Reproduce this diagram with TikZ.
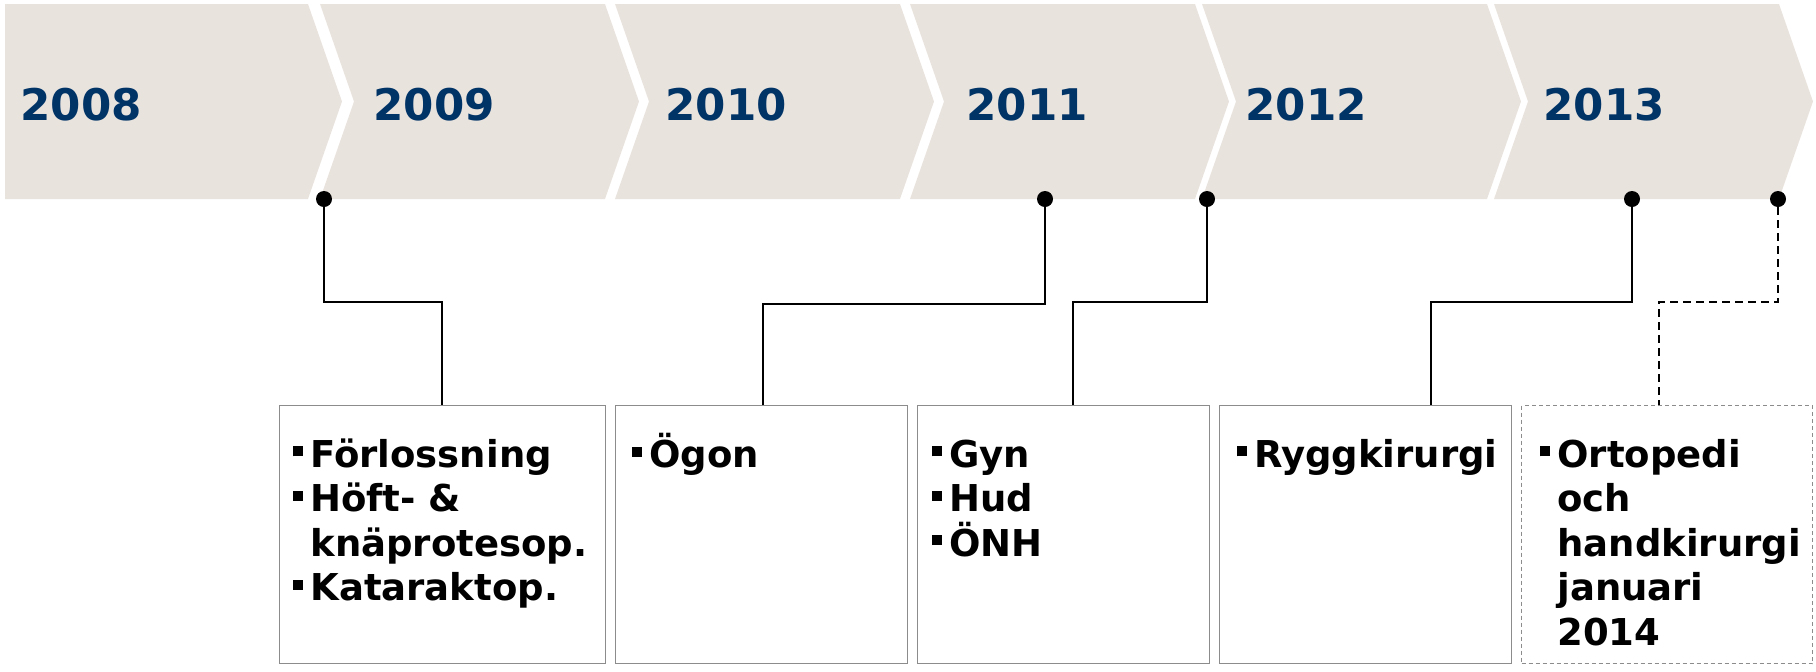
\documentclass[tikz,border=0pt]{standalone}
\usepackage{fontspec}
\setmainfont{DejaVu Sans}
\definecolor{band}{HTML}{E9E3DE}
\definecolor{yearblue}{HTML}{003366}
\definecolor{boxgray}{HTML}{8C8C8C}
\newcommand{\blt}{\makebox[8.5pt][l]{\rule[5.5pt]{5pt}{5pt}}}
\newcommand{\ind}{\hspace*{8.5pt}}

\begin{document}
\begin{tikzpicture}[x=0.5pt,y=-0.5pt,
  year/.style={anchor=base west,text=yearblue,inner sep=0pt,font=\bfseries\fontsize{21.8}{26}\selectfont},
  stage/.style={draw=boxgray,line width=0.6pt,anchor=north west,minimum height=129pt,inner sep=0pt},
  list/.style={anchor=north west,align=left,inner sep=0pt,font=\bfseries\fontsize{18.5}{22.2}\selectfont},
  dot/.style={circle,fill=black,inner sep=0pt,minimum size=8pt},
  link/.style={line width=1pt}]
\useasboundingbox (0,0) rectangle (1816,671);
% chevrons
\fill [band] (5,4) -- (308,4) -- (342,101.5) -- (308,199) -- (5,199) -- cycle;
\foreach \l in {320,615,910,1202,1494}
  \fill [band] (\l,4) -- ++(285,0) -- ++(34,97.5) -- ++(-34,97.5) -- ++(-285,0) -- ++(34,-97.5) -- cycle;
\node [year] (y2008) at (20,120) {2008};
\node [year] (y2009) at (373,120) {2009};
\node [year] (y2010) at (665,120) {2010};
\node [year] (y2011) at (966,120) {2011};
\node [year] (y2012) at (1245,120) {2012};
\node [year] (y2013) at (1543,120) {2013};
% boxes
\node [stage,minimum width=163pt] (b1) at (279,405) {};
\node [stage,minimum width=146pt] (b2) at (615,405) {};
\node [stage,minimum width=146pt] (b3) at (917,405) {};
\node [stage,minimum width=146pt] (b4) at (1219,405) {};
\node [stage,minimum width=145.5pt,dash pattern=on 2pt off 1.5pt] (b5) at (1521,405) {};
\node [list] (t1) at ([xshift=7pt,yshift=-14pt]b1.north west) {\blt\rule{0pt}{17pt}Förlossning\\ \blt Höft- \&\\ \ind knäprotesop.\\ \blt Kataraktop.};
\node [list] (t2) at ([xshift=8.5pt,yshift=-14pt]b2.north west) {\blt\rule{0pt}{17pt}Ögon};
\node [list] (t3) at ([xshift=7.5pt,yshift=-14pt]b3.north west) {\blt\rule{0pt}{17pt}Gyn\\ \blt Hud\\ \blt ÖNH};
\node [list] (t4) at ([xshift=9pt,yshift=-14pt]b4.north west) {\blt\rule{0pt}{17pt}Ryggkirurgi};
\node [list] (t5) at ([xshift=9.5pt,yshift=-14pt]b5.north west) {\blt\rule{0pt}{17pt}Ortopedi\\ \ind och\\ \ind handkirurgi\\ \ind januari\\ \ind 2014};
% dots and links
\node [dot] (d1) at (324,199) {};
\node [dot] (d2) at (1045,199) {};
\node [dot] (d3) at (1207,199) {};
\node [dot] (d4) at (1632,199) {};
\node [dot] (d5) at (1778,199) {};
\coordinate (k1) at (442,302);
\coordinate (k2) at (763,304);
\coordinate (k3) at (1073,302);
\coordinate (k4) at (1431,302);
\coordinate (k5) at (1659,302);
\draw [link] (d1) |- (k1) -- (k1 |- b1.north);
\draw [link] (d2) |- (k2) -- (k2 |- b2.north);
\draw [link] (d3) |- (k3) -- (k3 |- b3.north);
\draw [link] (d4) |- (k4) -- (k4 |- b4.north);
\draw [link,dash pattern=on 4pt off 2.5pt] (d5) |- (k5) -- (k5 |- b5.north);
\end{tikzpicture}
\end{document}
